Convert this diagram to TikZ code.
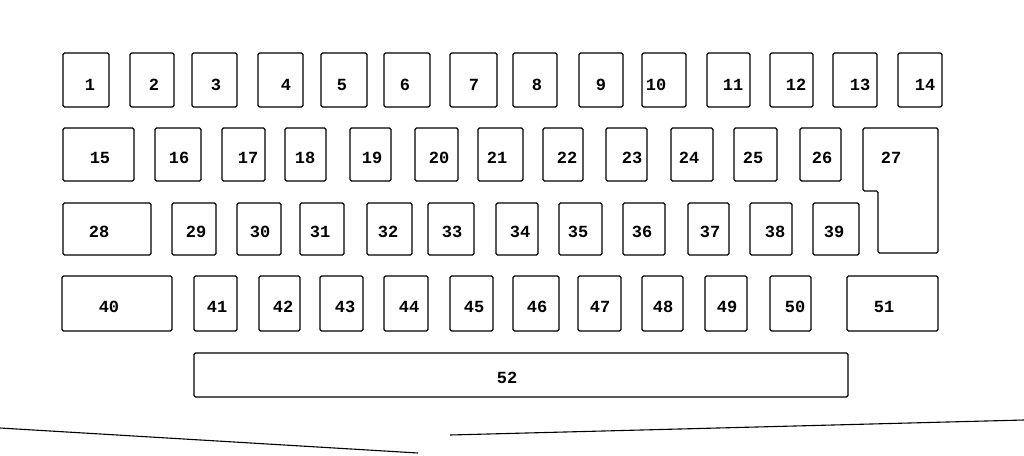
\documentclass[tikz,border=0pt]{standalone}
\usepackage{fontspec}
\setmonofont{Liberation Mono}
\usepackage{tikz}

\begin{document}
\begin{tikzpicture}[x=1pt,y=-1pt,
 box/.style={draw,line width=1.2pt,rounded corners=1.5pt,inner sep=0pt,outer sep=0pt},
 num/.style={font=\ttfamily\bfseries\fontsize{17}{17}\selectfont,inner sep=0pt},
 rim/.style={line width=1.1pt}
]
\useasboundingbox (0,0) rectangle (1024,455);
% top row
\node[box,minimum width=46,minimum height=54] (f1) at (86,80) {}; \node[num] (n1) at (90,85) {1};
\node[box,minimum width=44,minimum height=54] (f2) at (152,80) {}; \node[num] (n2) at (154,85) {2};
\node[box,minimum width=45,minimum height=54] (f3) at (214.5,80) {}; \node[num] (n3) at (216,85) {3};
\node[box,minimum width=45,minimum height=54] (f4) at (280.5,80) {}; \node[num] (n4) at (286,85) {4};
\node[box,minimum width=46,minimum height=54] (f5) at (344,80) {}; \node[num] (n5) at (342,85) {5};
\node[box,minimum width=46,minimum height=54] (f6) at (407,80) {}; \node[num] (n6) at (405,85) {6};
\node[box,minimum width=47,minimum height=54] (f7) at (473.5,80) {}; \node[num] (n7) at (474,85) {7};
\node[box,minimum width=44,minimum height=54] (f8) at (535,80) {}; \node[num] (n8) at (537,85) {8};
\node[box,minimum width=44,minimum height=54] (f9) at (601,80) {}; \node[num] (n9) at (601,85) {9};
\node[box,minimum width=44,minimum height=54] (f10) at (664,80) {}; \node[num] (n10) at (656,85) {10};
\node[box,minimum width=43,minimum height=54] (f11) at (728.5,80) {}; \node[num] (n11) at (733,85) {11};
\node[box,minimum width=43,minimum height=54] (f12) at (791.5,80) {}; \node[num] (n12) at (796,85) {12};
\node[box,minimum width=44,minimum height=54] (f13) at (855,80) {}; \node[num] (n13) at (860,85) {13};
\node[box,minimum width=44,minimum height=54] (f14) at (920,80) {}; \node[num] (n14) at (925,85) {14};
% second row
\node[box,minimum width=71,minimum height=53] (f15) at (98.5,154.5) {}; \node[num] (n15) at (100,158) {15};
\node[box,minimum width=46,minimum height=53] (f16) at (178,154.5) {}; \node[num] (n16) at (179,158) {16};
\node[box,minimum width=43,minimum height=53] (f17) at (243.5,154.5) {}; \node[num] (n17) at (248,158) {17};
\node[box,minimum width=41,minimum height=53] (f18) at (305.5,154.5) {}; \node[num] (n18) at (305,158) {18};
\node[box,minimum width=41,minimum height=53] (f19) at (370.5,154.5) {}; \node[num] (n19) at (372,158) {19};
\node[box,minimum width=43,minimum height=53] (f20) at (436.5,154.5) {}; \node[num] (n20) at (439,158) {20};
\node[box,minimum width=45,minimum height=53] (f21) at (500.5,154.5) {}; \node[num] (n21) at (497,158) {21};
\node[box,minimum width=40,minimum height=53] (f22) at (563,154.5) {}; \node[num] (n22) at (567,158) {22};
\node[box,minimum width=41,minimum height=53] (f23) at (626.5,154.5) {}; \node[num] (n23) at (632,158) {23};
\node[box,minimum width=42,minimum height=53] (f24) at (692,154.5) {}; \node[num] (n24) at (689,158) {24};
\node[box,minimum width=43,minimum height=53] (f25) at (755.5,154.5) {}; \node[num] (n25) at (753,158) {25};
\node[box,minimum width=41,minimum height=53] (f26) at (820.5,154.5) {}; \node[num] (n26) at (822,158) {26};
\draw[box] (863,128) -- (938,128) -- (938,253) -- (878,253) -- (878,191) -- (863,191) -- cycle;
\node[num] (n27) at (891,158) {27};
% third row
\node[box,minimum width=88,minimum height=52] (f28) at (107,229) {}; \node[num] (n28) at (99,232) {28};
\node[box,minimum width=44,minimum height=52] (f29) at (194,229) {}; \node[num] (n29) at (196,232) {29};
\node[box,minimum width=44,minimum height=52] (f30) at (259,229) {}; \node[num] (n30) at (260,232) {30};
\node[box,minimum width=44,minimum height=52] (f31) at (322,229) {}; \node[num] (n31) at (320,232) {31};
\node[box,minimum width=45,minimum height=52] (f32) at (389.5,229) {}; \node[num] (n32) at (388,232) {32};
\node[box,minimum width=46,minimum height=52] (f33) at (451,229) {}; \node[num] (n33) at (452,232) {33};
\node[box,minimum width=42,minimum height=52] (f34) at (517,229) {}; \node[num] (n34) at (520,232) {34};
\node[box,minimum width=43,minimum height=52] (f35) at (580.5,229) {}; \node[num] (n35) at (578,232) {35};
\node[box,minimum width=42,minimum height=52] (f36) at (644,229) {}; \node[num] (n36) at (642,232) {36};
\node[box,minimum width=41,minimum height=52] (f37) at (708.5,229) {}; \node[num] (n37) at (710,232) {37};
\node[box,minimum width=42,minimum height=52] (f38) at (771,229) {}; \node[num] (n38) at (775,232) {38};
\node[box,minimum width=46,minimum height=52] (f39) at (836,229) {}; \node[num] (n39) at (834,232) {39};
% fourth row
\node[box,minimum width=110,minimum height=55] (f40) at (117,303.5) {}; \node[num] (n40) at (109,307) {40};
\node[box,minimum width=43,minimum height=55] (f41) at (215.5,303.5) {}; \node[num] (n41) at (217,307) {41};
\node[box,minimum width=41,minimum height=55] (f42) at (279.5,303.5) {}; \node[num] (n42) at (283,307) {42};
\node[box,minimum width=43,minimum height=55] (f43) at (341.5,303.5) {}; \node[num] (n43) at (345,307) {43};
\node[box,minimum width=44,minimum height=55] (f44) at (406,303.5) {}; \node[num] (n44) at (409,307) {44};
\node[box,minimum width=43,minimum height=55] (f45) at (471.5,303.5) {}; \node[num] (n45) at (474,307) {45};
\node[box,minimum width=46,minimum height=55] (f46) at (536,303.5) {}; \node[num] (n46) at (537,307) {46};
\node[box,minimum width=43,minimum height=55] (f47) at (599.5,303.5) {}; \node[num] (n47) at (600,307) {47};
\node[box,minimum width=41,minimum height=55] (f48) at (662.5,303.5) {}; \node[num] (n48) at (663,307) {48};
\node[box,minimum width=42,minimum height=55] (f49) at (726,303.5) {}; \node[num] (n49) at (727,307) {49};
\node[box,minimum width=41,minimum height=55] (f50) at (790.5,303.5) {}; \node[num] (n50) at (795,307) {50};
\node[box,minimum width=91,minimum height=55] (f51) at (892.5,303.5) {}; \node[num] (n51) at (884,307) {51};
% space bar
\node[box,minimum width=654,minimum height=44] (f52) at (521,375) {}; \node[num] (n52) at (507,378) {52};
% case edge
\draw[rim] (0,428) -- (418,453);
\draw[rim] (450,435) -- (1024,420);
\end{tikzpicture}
\end{document}
